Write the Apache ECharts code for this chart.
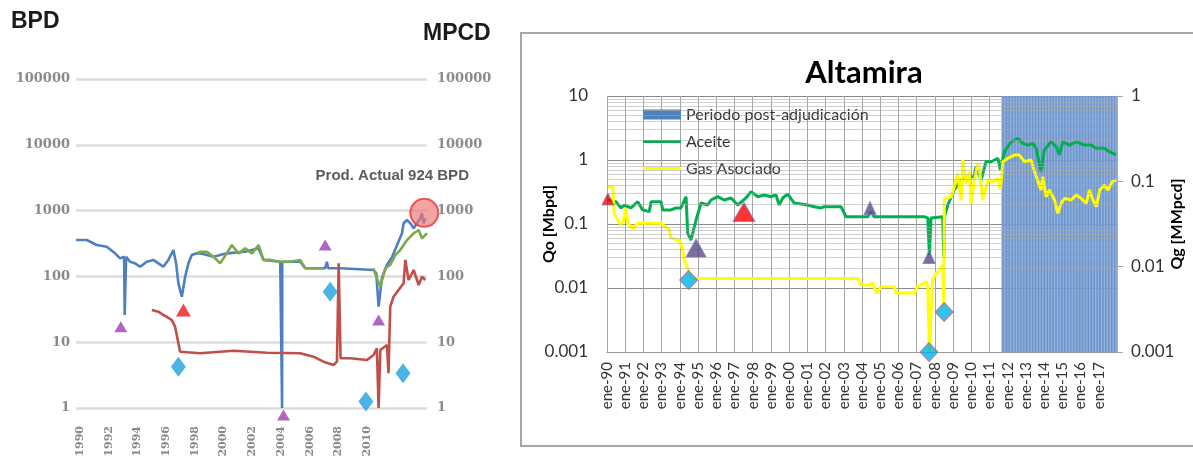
<!DOCTYPE html>
<html>
<head>
<meta charset="utf-8">
<script src="https://cdn.jsdelivr.net/npm/echarts@6/dist/echarts.min.js"></script>
<style>
  html, body { margin: 0; padding: 0; background: #fff; }
  #wrap { position: relative; width: 1193px; height: 460px; overflow: hidden; }
  #historico { position: absolute; left: 0; top: 0; width: 520px; height: 460px; filter: blur(0.7px); }
  #altamira { position: absolute; left: 0; top: 0; width: 1193px; height: 460px; }
</style>
</head>
<body>
<div id="wrap">
  <div id="historico"></div>
  <div id="altamira"></div>
</div>
<script>
// ---------- Historical production panel (BPD / MPCD) ----------
const anosHistorico = [1990, 1992, 1994, 1996, 1998, 2000, 2002, 2004, 2006, 2008, 2010];

const aceiteAzul = [
  [1989.72, 357], [1990.47, 357], [1991.16, 300], [1991.86, 283], [1992.44, 224], [1992.79, 188],
  [1993.07, 199], [1993.11, 25.9], [1993.21, 199], [1993.48, 167], [1993.83, 158], [1994.18, 140],
  [1994.65, 167], [1995.11, 178], [1995.46, 158], [1995.80, 140], [1996.15, 178], [1996.50, 252],
  [1996.69, 158], [1996.85, 78.5], [1997.09, 49.1], [1997.32, 99], [1997.55, 158], [1997.78, 211],
  [1998.13, 224], [1998.36, 224], [1999.29, 199], [2000.22, 224], [2001.50, 237], [2002.43, 267],
  [2002.77, 178], [2003.94, 167], [2004.06, 167], [2004.07, 1], [2004.08, 167], [2005.33, 167],
  [2005.68, 133], [2006.72, 133], [2007.07, 133], [2007.19, 167], [2007.28, 133], [2008.12, 133],
  [2010.44, 125], [2010.63, 111], [2010.79, 34.7], [2011.02, 93.6], [2011.37, 149], [2011.74, 200],
  [2012.42, 452], [2012.53, 641], [2012.77, 720], [2013.00, 641], [2013.23, 538], [2013.46, 641],
  [2013.69, 764], [2013.81, 910], [2013.92, 641], [2014.04, 764]
];

const aceiteVerde = [
  [1998.13, 224], [1998.36, 237], [1998.83, 237], [1999.29, 199], [1999.76, 158], [2000.22, 224],
  [2000.57, 300], [2001.03, 224], [2001.50, 267], [2001.97, 224], [2002.43, 300], [2002.77, 178],
  [2003.24, 178], [2003.94, 167], [2004.63, 167], [2005.33, 178], [2005.68, 133], [2006.93, 133],
  [2008.50, null],
  [2010.42, 133], [2010.67, 93.6], [2010.91, 69.7], [2011.25, 133], [2011.60, 149], [2011.95, 211],
  [2012.30, 252], [2012.77, 357], [2013.23, 452], [2013.58, 507], [2013.81, 379], [2014.16, 452]
];

const gasRojo = [
  [1995.00, 30.9], [1995.46, 29.1], [1995.80, 25.9], [1996.04, 24.4], [1996.39, 21.7], [1996.62, 17.2],
  [1996.97, 7.17], [1998.36, 6.78], [2000.68, 7.43], [2003.01, 6.92], [2005.33, 6.78], [2006.26, 6.02],
  [2006.95, 5.06], [2007.65, 4.50], [2007.89, 5.06], [2008.01, 158], [2008.14, 5.69], [2008.82, 5.69],
  [2009.98, 5.36], [2010.44, 6.39], [2010.67, 8.07], [2010.79, 1], [2010.91, 7.61], [2011.37, 9.06],
  [2011.48, 3.37], [2011.60, 34.7], [2011.83, 49.1], [2012.18, 62.1], [2012.53, 78.5], [2012.65, 178],
  [2012.88, 88.2], [2013.23, 125], [2013.58, 74], [2013.81, 99], [2014.04, 88.2]
];

const eventosTrianguloMorado = [[1992.84, 17.2], [2004.17, 0.78], [2007.07, 300], [2010.79, 21.7]];
const eventosTrianguloRojo = [[1997.20, 30.9]];
const eventosRomboAzul = [[1996.85, 4.24], [2007.42, 58.5], [2009.91, 1.25], [2012.49, 3.37]];
const produccionActual = [[2013.97, 924]];

// ---------- Altamira panel ----------
const etiquetasMes = ['ene-90','ene-91','ene-92','ene-93','ene-94','ene-95','ene-96','ene-97','ene-98',
  'ene-99','ene-00','ene-01','ene-02','ene-03','ene-04','ene-05','ene-06','ene-07','ene-08','ene-09',
  'ene-10','ene-11','ene-12','ene-13','ene-14','ene-15','ene-16','ene-17'];

const aceiteAltamira = [
  [1990.00, 0.24], [1990.49, 0.223], [1990.77, 0.178], [1990.95, 0.198], [1991.32, 0.178], [1991.69, 0.223],
  [1991.96, 0.166], [1992.32, 0.156], [1992.42, 0.223], [1992.97, 0.223], [1993.06, 0.166], [1993.51, 0.166],
  [1993.79, 0.178], [1994.06, 0.178], [1994.34, 0.267], [1994.43, 0.072], [1994.61, 0.056], [1994.89, 0.1155],
  [1995.16, 0.213], [1995.53, 0.198], [1995.71, 0.237], [1996.08, 0.267], [1996.43, 0.237], [1996.81, 0.255],
  [1997.18, 0.198], [1997.63, 0.255], [1997.91, 0.32], [1998.28, 0.267], [1998.62, 0.284], [1999.01, 0.267],
  [1999.28, 0.284], [1999.45, 0.198], [1999.65, 0.255], [1999.92, 0.294], [2000.27, 0.213], [2001.02, 0.198],
  [2001.37, 0.186], [2001.75, 0.178], [2001.92, 0.186], [2002.85, 0.186], [2003.12, 0.130], [2003.56, 0.130],
  [2004.32, 0.130], [2004.50, 0.156], [2004.66, 0.130], [2007.41, 0.130], [2007.61, 0.124], [2007.70, 0.0328],
  [2007.79, 0.124], [2008.43, 0.130], [2008.49, 0.0308], [2008.52, 0.130], [2008.71, 0.198], [2009.06, 0.340],
  [2009.44, 0.487], [2009.81, 0.548], [2010.15, 0.548], [2010.26, 0.785], [2010.54, 0.487], [2010.81, 0.94],
  [2011.09, 0.94], [2011.46, 1.064], [2011.60, 0.698], [2011.82, 1.35], [2012.19, 1.93], [2012.55, 2.18],
  [2012.83, 1.82], [2013.10, 1.71], [2013.38, 1.82], [2013.56, 1.52], [2013.83, 0.656], [2014.01, 1.43],
  [2014.38, 1.93], [2014.66, 1.61], [2014.84, 1.20], [2015.03, 1.93], [2015.39, 1.71], [2015.76, 1.93],
  [2016.21, 1.71], [2016.58, 1.71], [2016.85, 1.52], [2017.31, 1.52], [2017.58, 1.35], [2017.95, 1.20]
];

const gasAltamira = [
  [1990.04, 0.0865], [1990.31, 0.0865], [1990.40, 0.0422], [1990.68, 0.0322], [1990.86, 0.0322],
  [1991.04, 0.0482], [1991.14, 0.0322], [1991.41, 0.0281], [1991.69, 0.0322], [1992.97, 0.0322],
  [1993.42, 0.0269], [1993.51, 0.0215], [1993.97, 0.0205], [1994.16, 0.0157], [1994.24, 0.0119],
  [1994.43, 0.00955], [1994.61, 0.00729], [2003.77, 0.00729], [2003.95, 0.00608], [2004.40, 0.00608],
  [2004.59, 0.00643], [2004.78, 0.00491], [2005.05, 0.00581], [2005.78, 0.00581], [2005.87, 0.00491],
  [2006.88, 0.00491], [2007.06, 0.00581], [2007.52, 0.00665], [2007.61, 0.00608], [2007.70, 0.001],
  [2007.88, 0.00697], [2008.07, 0.00834], [2008.25, 0.00912], [2008.43, 0.01044], [2008.49, 0.00339],
  [2008.52, 0.0632], [2008.71, 0.0632], [2008.89, 0.0660], [2009.07, 0.0865], [2009.26, 0.124],
  [2009.44, 0.0604], [2009.53, 0.178], [2009.72, 0.0948], [2009.90, 0.130], [2009.99, 0.0552],
  [2010.17, 0.1036], [2010.36, 0.163], [2010.45, 0.136], [2010.63, 0.0604], [2010.91, 0.1036],
  [2011.18, 0.0989], [2011.46, 0.1084], [2011.60, 0.0791], [2011.73, 0.170], [2012.00, 0.186],
  [2012.37, 0.203], [2012.64, 0.203], [2012.92, 0.170], [2013.28, 0.178], [2013.47, 0.130],
  [2013.83, 0.0791], [2013.93, 0.113], [2014.11, 0.0660], [2014.29, 0.0791], [2014.57, 0.0604],
  [2014.75, 0.0422], [2014.93, 0.0552], [2015.12, 0.0632], [2015.48, 0.0604], [2015.76, 0.0691],
  [2016.03, 0.0632], [2016.31, 0.0552], [2016.49, 0.0791], [2016.68, 0.0604], [2016.87, 0.0504],
  [2017.05, 0.0791], [2017.31, 0.0905], [2017.50, 0.0791], [2017.74, 0.0989], [2017.95, 0.1036]
];

const periodoPostAdjudicacion = [[2011.67, 2018.0]];
const hitosTrianguloRojo = [[1990.05, 0.246], [1997.52, 0.154]];
const hitosTrianguloAzul = [[1994.89, 0.042], [2004.44, 0.178], [2007.68, 0.0305]];
const hitosRombo = [[1994.48, 0.0133], [2007.68, 0.001], [2008.51, 0.00422]];

// ---------- panel 1 ----------
const labelFont = { fontFamily: 'DejaVu Serif', fontWeight: 'bold', color: '#8a8a8a' };
const historico = echarts.init(document.getElementById('historico'), null, { renderer: 'canvas' });
historico.setOption({
  animation: false,
  backgroundColor: '#fff',
  grid: { left: 76, right: 93, top: 79, bottom: 52 },
  graphic: [
    { type: 'text', left: 11, top: 10, style: { text: 'BPD', font: 'bold 23px "Liberation Sans", Arial', fill: '#1a1a1a' } },
    { type: 'text', left: 423, top: 22, style: { text: 'MPCD', font: 'bold 23px "Liberation Sans", Arial', fill: '#1a1a1a' } }
  ],
  xAxis: {
    type: 'value', min: 1989.72, max: 2014.16,
    axisLine: { show: false }, axisTick: { show: false }, splitLine: { show: false },
    axisLabel: Object.assign({ customValues: anosHistorico, rotate: 90, fontSize: 11, margin: 18, formatter: v => String(v) }, labelFont)
  },
  yAxis: [
    {
      type: 'log', logBase: 10, min: 1, max: 100000,
      axisLine: { show: false }, axisTick: { show: false },
      splitLine: { lineStyle: { color: '#dcdcdc', width: 2.5 } },
      axisLabel: Object.assign({ fontSize: 13, margin: 6, formatter: v => String(Math.round(v)) }, labelFont)
    },
    {
      type: 'log', logBase: 10, min: 1, max: 100000, position: 'right',
      axisLine: { show: false }, axisTick: { show: false }, splitLine: { show: false },
      axisLabel: Object.assign({ fontSize: 13, margin: 10, formatter: v => String(Math.round(v)) }, labelFont)
    }
  ],
  series: [
    { type: 'line', data: aceiteAzul, symbol: 'none', lineStyle: { color: '#4f7fbf', width: 2.6 }, z: 2 },
    { type: 'line', data: aceiteVerde, symbol: 'none', connectNulls: false, lineStyle: { color: '#7aaa4c', width: 2.6 }, z: 3 },
    { type: 'line', data: gasRojo, symbol: 'none', lineStyle: { color: '#bf4f48', width: 2.6 }, z: 3 },
    { type: 'scatter', data: eventosTrianguloMorado, symbol: 'triangle', symbolSize: [13, 11], clip: false,
      itemStyle: { color: '#a03db4' }, z: 5 },
    { type: 'scatter', data: eventosTrianguloRojo, symbol: 'triangle', symbolSize: [15, 13], clip: false,
      itemStyle: { color: '#ee1c1c' }, z: 5 },
    { type: 'scatter', data: eventosRomboAzul, symbol: 'diamond', symbolSize: [15, 20], clip: false,
      itemStyle: { color: '#1ea0e0' }, z: 5 },
    { type: 'scatter', data: produccionActual, symbol: 'circle', symbolSize: 28, clip: false,
      itemStyle: { color: 'rgba(240,120,120,0.85)', borderColor: '#e23a3a', borderWidth: 2 }, z: 6,
      label: { show: true, position: 'top', offset: [-32, -9], formatter: 'Prod. Actual 924 BPD',
        fontFamily: '"Liberation Sans", Arial', fontWeight: 'bold', fontSize: 15, color: '#333' } }
  ]
});

// ---------- panel 2: Altamira ----------
const minorLevels = [];
[0.001, 0.01, 0.1, 1].forEach(d => { for (let k = 2; k <= 9; k++) minorLevels.push(+(d * k).toPrecision(2)); });

const sans = 'Lato';
const lineIcon = 'path://M0,0 L40,0 L40,3.2 L0,3.2 Z';
const altamira = echarts.init(document.getElementById('altamira'), null, { renderer: 'canvas' });
altamira.setOption({
  animation: false,
  backgroundColor: 'transparent',
  title: {
    text: 'Altamira', left: 859, top: 52, textAlign: 'center',
    textStyle: { fontFamily: sans, fontWeight: 'bold', fontSize: 31, color: '#000' }
  },
  graphic: [
    { type: 'rect', shape: { x: 521, y: 33, width: 700, height: 413 }, style: { fill: 'none', stroke: '#a6a6a6', lineWidth: 2 }, z: -1 }
  ],
  legend: {
    orient: 'vertical', left: 638, top: 101, itemWidth: 38, itemHeight: 10, itemGap: 10,
    selectedMode: false,
    textStyle: { fontFamily: sans, fontSize: 16, color: '#333', lineHeight: 17 },
    data: [
      { name: 'Periodo post-adjudicación', icon: 'rect', itemStyle: { color: '#4f81bd' } },
      { name: 'Aceite', icon: lineIcon, itemStyle: { color: '#00b050' } },
      { name: 'Gas Asociado', icon: lineIcon, itemStyle: { color: '#ffff00' } }
    ]
  },
  grid: { left: 607, top: 96, width: 510, height: 256 },
  xAxis: {
    type: 'value', min: 1990, max: 2018, interval: 1,
    axisLine: { show: true, lineStyle: { color: '#999', width: 1 } },
    axisTick: { show: false },
    splitLine: { show: true, lineStyle: { color: '#a6a6a6', width: 1 } },
    axisLabel: {
      rotate: 90, margin: 10, fontFamily: sans, fontSize: 15, color: '#333',
      formatter: v => etiquetasMes[Math.round(v - 1990)] || ''
    }
  },
  yAxis: [
    {
      type: 'log', logBase: 10, min: 0.001, max: 10,
      name: 'Qo [Mbpd]', nameLocation: 'middle', nameGap: 50, nameRotate: 90, nameMoveOverlap: false,
      nameTextStyle: { fontFamily: sans, fontWeight: 'bold', fontSize: 16, color: '#000' },
      axisLine: { show: false }, axisTick: { show: false },
      splitLine: { show: true, lineStyle: { color: '#8c8c8c', width: 1 } },
      axisLabel: { fontFamily: sans, fontSize: 17, color: '#333', margin: 19, align: 'right', hideOverlap: false,
        formatter: v => String(+v.toPrecision(1)) }
    },
    {
      type: 'log', logBase: 10, min: 0.001, max: 1, position: 'right',
      name: 'Qg [MMpcd]', nameLocation: 'middle', nameGap: 52, nameRotate: 90, nameMoveOverlap: false,
      nameTextStyle: { fontFamily: sans, fontWeight: 'bold', fontSize: 16, color: '#000' },
      axisLine: { show: true, lineStyle: { color: '#a6a6a6' } },
      axisTick: { show: true, length: 6, lineStyle: { color: '#a6a6a6' } },
      splitLine: { show: false },
      axisLabel: { fontFamily: sans, fontSize: 17, color: '#333', margin: 14, formatter: v => String(+v.toPrecision(1)) }
    }
  ],
  series: [
    {
      name: 'Periodo post-adjudicación', type: 'custom', yAxisIndex: 0, z: 1,
      data: periodoPostAdjudicacion.map(d => [d[0], d[1], 10]),
      encode: { x: [0, 1], y: 2 },
      itemStyle: { color: '#4f81bd' },
      renderItem: function (params, api) {
        const start = api.value(0), end = api.value(1);
        const pTop = api.coord([start, 10]);
        const pBot = api.coord([start, 0.001]);
        const pEnd = api.coord([end, 10]);
        const children = [{
          type: 'rect',
          shape: { x: pTop[0], y: pTop[1], width: pEnd[0] - pTop[0], height: pBot[1] - pTop[1] },
          style: { fill: 'rgba(150,180,222,0.85)' }
        }];
        for (let t = start; t < end - 1e-6; t += 1 / 12) {
          const a = api.coord([t, 10])[0];
          const b = api.coord([t + 1 / 12, 10])[0];
          children.push({
            type: 'rect',
            shape: { x: a, y: pTop[1], width: (b - a) * 0.5, height: pBot[1] - pTop[1] },
            style: { fill: 'rgba(79,127,192,0.9)' }
          });
        }
        return { type: 'group', children: children };
      }
    },
    {
      // logarithmic minor grid, drawn over the shaded period
      type: 'line', data: [], yAxisIndex: 0, silent: true, z: 2,
      markLine: {
        silent: true, symbol: 'none', label: { show: false },
        lineStyle: { color: 'rgba(170,170,170,0.55)', width: 1, type: 'solid' },
        data: minorLevels.map(v => ({ yAxis: v * 10 }))
      }
    },
    {
      name: 'Aceite', type: 'line', yAxisIndex: 0, data: aceiteAltamira, symbol: 'none', z: 3,
      lineStyle: { color: '#00b050', width: 3 }, itemStyle: { color: '#00b050' }
    },
    {
      name: 'Gas Asociado', type: 'line', yAxisIndex: 1, data: gasAltamira, symbol: 'none', z: 3,
      lineStyle: { color: '#ffff00', width: 3 }, itemStyle: { color: '#ffff00' }
    },
    {
      type: 'scatter', yAxisIndex: 0, data: hitosTrianguloRojo, symbol: 'triangle', clip: false, z: 5,
      symbolSize: (v, p) => p.dataIndex === 0 ? [12, 12] : [22, 19],
      itemStyle: { color: '#ff0000', borderColor: '#7f7fbf', borderWidth: 1 }
    },
    {
      type: 'scatter', yAxisIndex: 0, data: hitosTrianguloAzul, symbol: 'triangle', clip: false, z: 5,
      symbolSize: (v, p) => p.dataIndex === 0 ? [20, 18] : [12, 13],
      itemStyle: { color: '#5a4a86', borderColor: '#7f7fbf', borderWidth: 1 }
    },
    {
      type: 'scatter', yAxisIndex: 0, data: hitosRombo, symbol: 'diamond', clip: false, z: 5,
      symbolSize: [18, 19],
      itemStyle: { color: '#00b0f0', borderColor: '#d06060', borderWidth: 1 }
    }
  ]
});
</script>
</body>
</html>
